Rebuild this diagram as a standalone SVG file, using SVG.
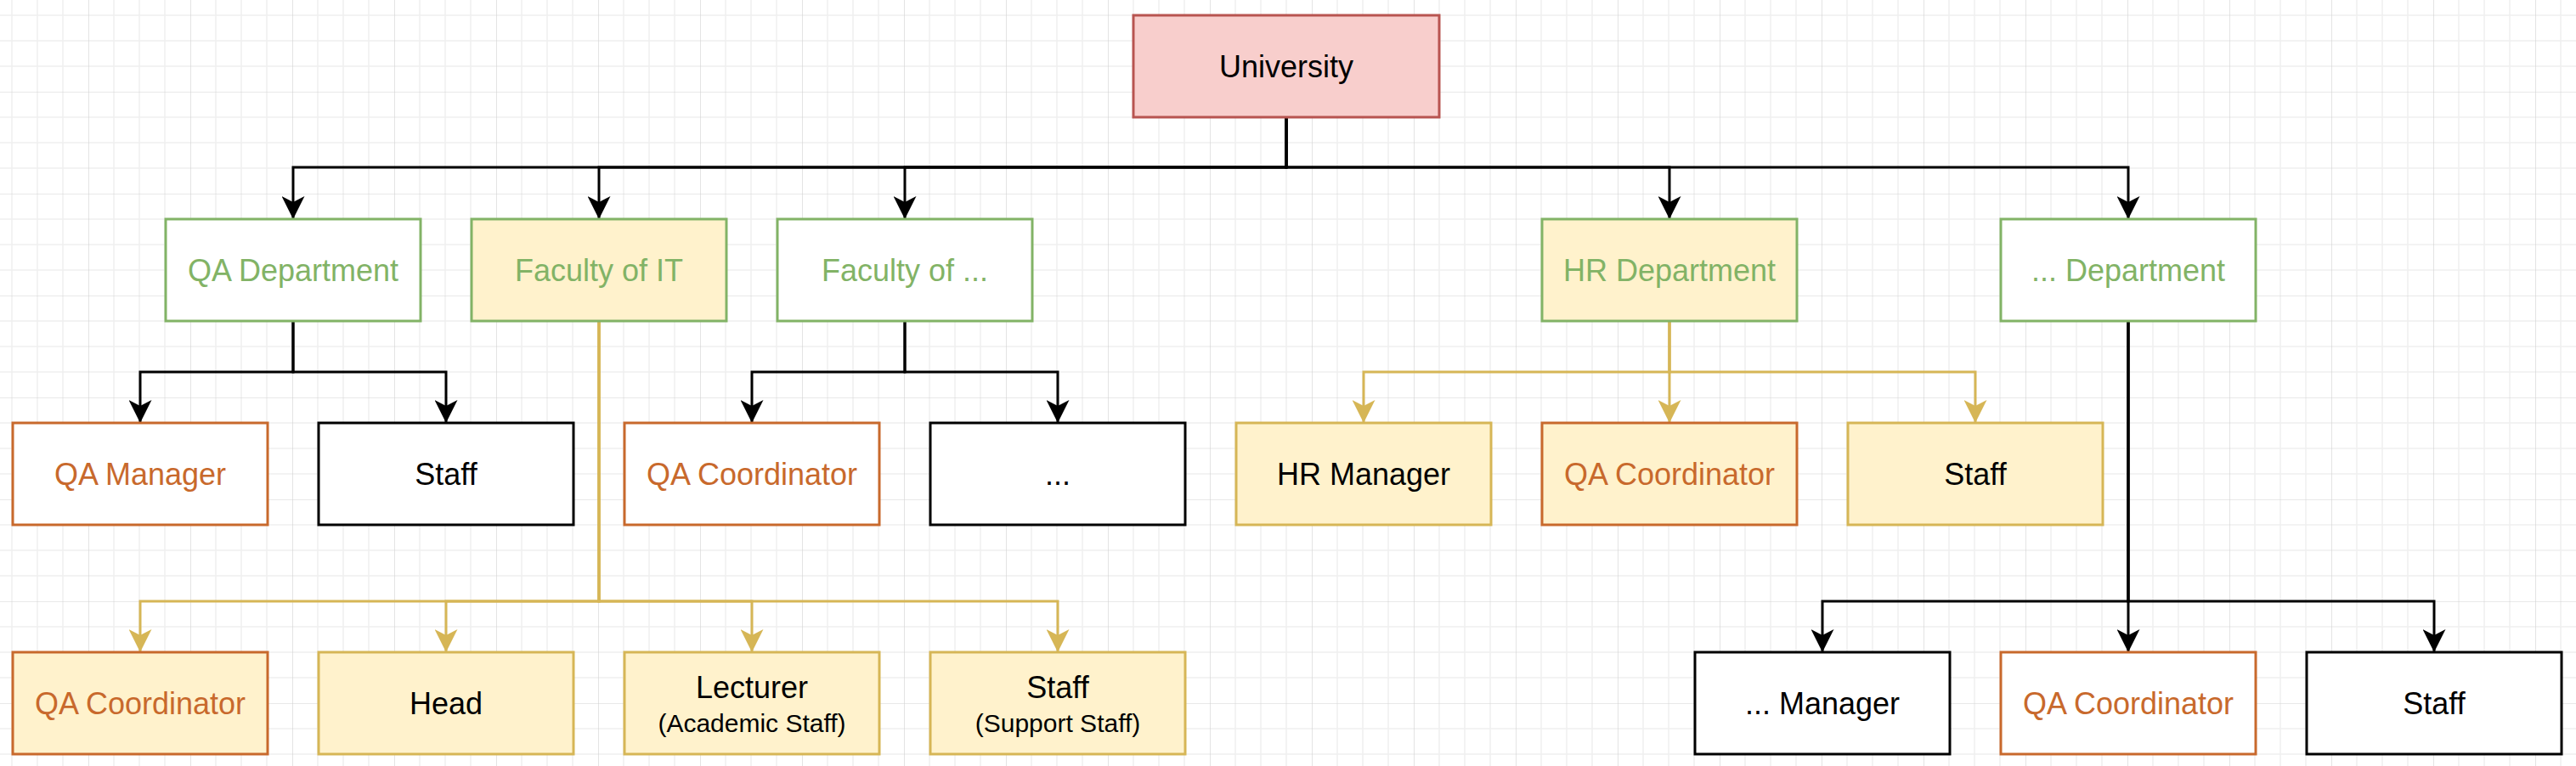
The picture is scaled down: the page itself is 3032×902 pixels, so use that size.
<svg xmlns="http://www.w3.org/2000/svg" width="3032" height="902" viewBox="0 0 3032 902">
<defs>
<pattern id="grid" patternUnits="userSpaceOnUse" x="104" y="108" width="120" height="120">
<rect width="120" height="120" fill="#ffffff"/>
<path d="M30 0V120M60 0V120M90 0V120M0 30H120M0 60H120M0 90H120" stroke="#efefef" stroke-width="1.5" fill="none"/>
<path d="M0 0V120M0 0H120" stroke="#d3d3d3" stroke-width="1.2" fill="none"/>
</pattern>
<marker id="ab" markerUnits="userSpaceOnUse" viewBox="0 0 27 27" markerWidth="27" markerHeight="27" refX="27" refY="13.5" orient="auto">
<path d="M0 0L27 13.5L0 27L7 13.5Z" fill="#000000"/>
</marker>
<marker id="ay" markerUnits="userSpaceOnUse" viewBox="0 0 27 27" markerWidth="27" markerHeight="27" refX="27" refY="13.5" orient="auto">
<path d="M0 0L27 13.5L0 27L7 13.5Z" fill="#d6b656"/>
</marker>
</defs>
<style>
text{font-family:"Liberation Sans",Arial,Helvetica,sans-serif;font-size:36px;text-anchor:middle;fill:#000000}
.small{font-size:30px}
.box{stroke-width:3}
.red{fill:#f8cecc;stroke:#b85450}
.gw{fill:#ffffff;stroke:#82b366}
.gy{fill:#fff2cc;stroke:#82b366}
.ow{fill:#ffffff;stroke:#c8692c}
.oy{fill:#fff2cc;stroke:#c8692c}
.yy{fill:#fff2cc;stroke:#d6b656}
.bw{fill:#ffffff;stroke:#000000}
.tg{fill:#82b366}
.to{fill:#c8692c}
.eb{fill:none;stroke:#000000;stroke-width:3;marker-end:url(#ab)}
.ey{fill:none;stroke:#d6b656;stroke-width:3;marker-end:url(#ay)}
</style>
<rect width="3032" height="902" fill="url(#grid)"/>
<g id="connectors">
<path class="eb" d="M1514 138V197H345V258"/>
<path class="eb" d="M1514 138V197H705V258"/>
<path class="eb" d="M1514 138V197H1065V258"/>
<path class="eb" d="M1514 138V197H1965V258"/>
<path class="eb" d="M1514 138V197H2505V258"/>
<path class="eb" d="M345 378V438H165V498"/>
<path class="eb" d="M345 378V438H525V498"/>
<path class="eb" d="M1065 378V438H885V498"/>
<path class="eb" d="M1065 378V438H1245V498"/>
<path class="ey" d="M1965 378V438H1605V498"/>
<path class="ey" d="M1965 378V498"/>
<path class="ey" d="M1965 378V438H2325V498"/>
<path class="ey" d="M705 378V708H165V768"/>
<path class="ey" d="M705 378V708H525V768"/>
<path class="ey" d="M705 378V708H885V768"/>
<path class="ey" d="M705 378V708H1245V768"/>
<path class="eb" d="M2505 378V708H2145V768"/>
<path class="eb" d="M2505 378V768"/>
<path class="eb" d="M2505 378V708H2865V768"/>
</g>
<g id="university"><rect class="box red" x="1334" y="18" width="360" height="120"/><text x="1514" y="91">University</text></g>
<g id="qa-department"><rect class="box gw" x="195" y="258" width="300" height="120"/><text class="tg" x="345" y="331">QA Department</text></g>
<g id="faculty-it"><rect class="box gy" x="555" y="258" width="300" height="120"/><text class="tg" x="705" y="331">Faculty of IT</text></g>
<g id="faculty-other"><rect class="box gw" x="915" y="258" width="300" height="120"/><text class="tg" x="1065" y="331">Faculty of ...</text></g>
<g id="hr-department"><rect class="box gy" x="1815" y="258" width="300" height="120"/><text class="tg" x="1965" y="331">HR Department</text></g>
<g id="other-department"><rect class="box gw" x="2355" y="258" width="300" height="120"/><text class="tg" x="2505" y="331">... Department</text></g>
<g id="qa-manager"><rect class="box ow" x="15" y="498" width="300" height="120"/><text class="to" x="165" y="571">QA Manager</text></g>
<g id="qa-staff"><rect class="box bw" x="375" y="498" width="300" height="120"/><text x="525" y="571">Staff</text></g>
<g id="fo-qa-coordinator"><rect class="box ow" x="735" y="498" width="300" height="120"/><text class="to" x="885" y="571">QA Coordinator</text></g>
<g id="fo-other"><rect class="box bw" x="1095" y="498" width="300" height="120"/><text x="1245" y="571">...</text></g>
<g id="hr-manager"><rect class="box yy" x="1455" y="498" width="300" height="120"/><text x="1605" y="571">HR Manager</text></g>
<g id="hr-qa-coordinator"><rect class="box oy" x="1815" y="498" width="300" height="120"/><text class="to" x="1965" y="571">QA Coordinator</text></g>
<g id="hr-staff"><rect class="box yy" x="2175" y="498" width="300" height="120"/><text x="2325" y="571">Staff</text></g>
<g id="it-qa-coordinator"><rect class="box oy" x="15" y="768" width="300" height="120"/><text class="to" x="165" y="841">QA Coordinator</text></g>
<g id="it-head"><rect class="box yy" x="375" y="768" width="300" height="120"/><text x="525" y="841">Head</text></g>
<g id="it-lecturer"><rect class="box yy" x="735" y="768" width="300" height="120"/><text x="885" y="822">Lecturer</text><text class="small" x="885" y="862">(Academic Staff)</text></g>
<g id="it-staff"><rect class="box yy" x="1095" y="768" width="300" height="120"/><text x="1245" y="822">Staff</text><text class="small" x="1245" y="862">(Support Staff)</text></g>
<g id="od-manager"><rect class="box bw" x="1995" y="768" width="300" height="120"/><text x="2145" y="841">... Manager</text></g>
<g id="od-qa-coordinator"><rect class="box ow" x="2355" y="768" width="300" height="120"/><text class="to" x="2505" y="841">QA Coordinator</text></g>
<g id="od-staff"><rect class="box bw" x="2715" y="768" width="300" height="120"/><text x="2865" y="841">Staff</text></g>
</svg>
